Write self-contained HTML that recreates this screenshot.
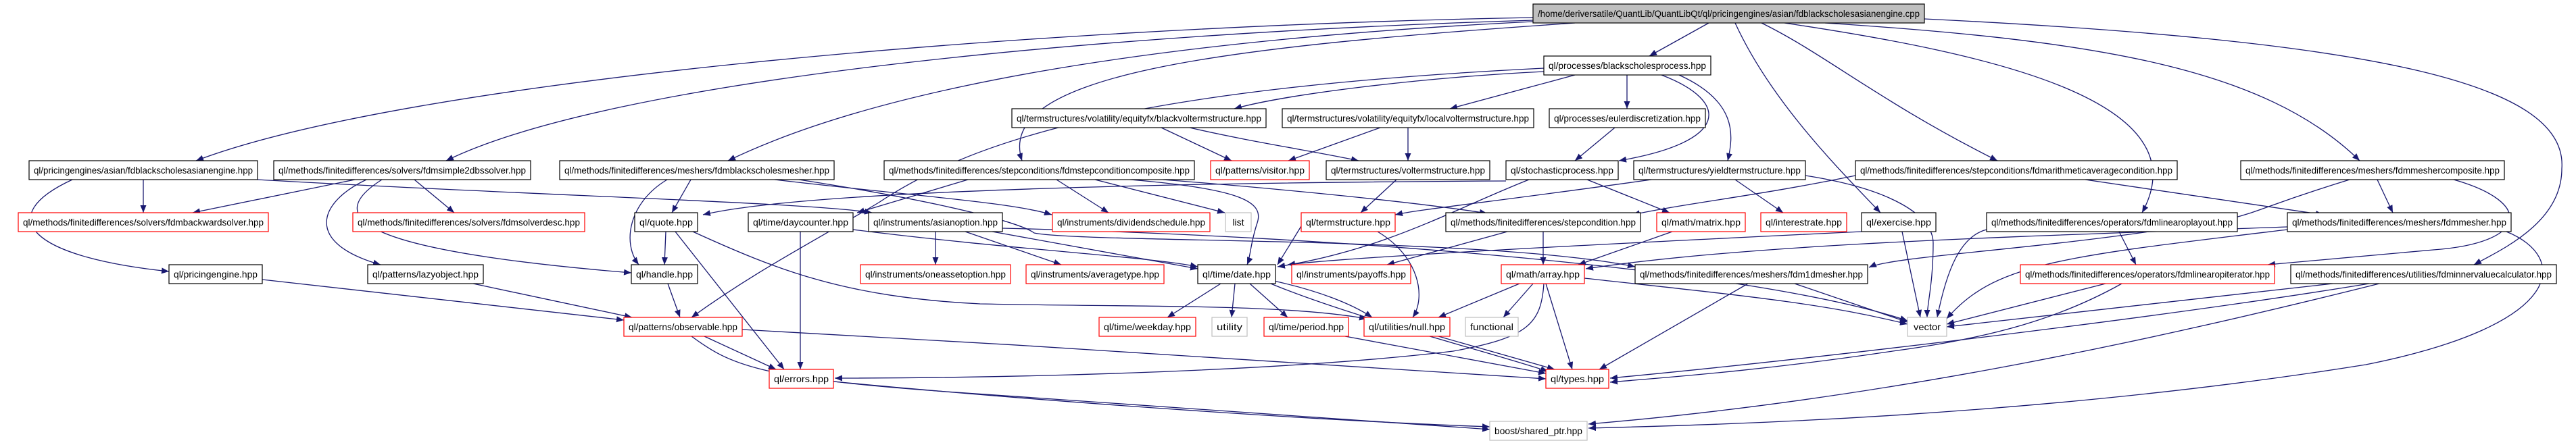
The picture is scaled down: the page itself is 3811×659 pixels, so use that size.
<!DOCTYPE html>
<html><head><meta charset="utf-8"><style>
html,body{margin:0;padding:0;background:#fff;}
svg{display:block;}
text{font-family:"Liberation Sans",sans-serif;font-size:14px;fill:#000;}
.e{fill:none;stroke:#191970;stroke-width:1.3;marker-end:url(#a);}
.n{fill:#fff;stroke:#000;stroke-width:1.2;}
.r{fill:#fff;stroke:#ff0000;stroke-width:1.2;}
.g{fill:#fff;stroke:#bfbfbf;stroke-width:1.2;}
.root{fill:#bfbfbf;stroke:#000;stroke-width:1.2;}
</style></head><body>
<svg width="3811" height="659" viewBox="0 0 3811 659" xmlns="http://www.w3.org/2000/svg">
<defs><marker id="a" markerUnits="userSpaceOnUse" markerWidth="12" markerHeight="9" refX="11" refY="4.5" orient="auto"><path d="M0,0 L11,4.5 L0,9 z" fill="#191970"/></marker></defs>
<g>
<!-- root edges -->
<path class="e" d="M2268,26 C1500,40 600,120 290,238"/>
<path class="e" d="M2268,30 C1600,50 900,120 660,238"/>
<path class="e" d="M2268,32 C1700,60 1300,130 1077,238"/>
<path class="e" d="M2330,34 C1800,70 1470,110 1512,238"/>
<path class="e" d="M2528,34 L2440,83"/>
<path class="e" d="M2567,34 C2620,150 2720,250 2782,315"/>
<path class="e" d="M2606,34 C2700,80 2780,150 2955,238"/>
<path class="e" d="M2640,34 C2950,80 3260,150 3169,315"/>
<path class="e" d="M2700,34 C3100,60 3350,100 3491,238"/>
<path class="e" d="M2847,28 C3500,60 3800,120 3790,250 C3790,330 3700,370 3660,392"/>
<!-- bsp -->
<path class="e" d="M2284,106 C2100,115 1900,140 1826,161"/>
<path class="e" d="M2284,101 C1700,130 1450,200 1300,300 C1200,360 1120,400 1023,470"/>
<path class="e" d="M2330,111 L2145,161"/>
<path class="e" d="M2407,111 L2407,161"/>
<path class="e" d="M2458,111 C2560,150 2560,210 2395,238"/>
<path class="e" d="M2484,111 C2570,150 2565,200 2556,238"/>
<!-- row C -->
<path class="e" d="M1718,189 L1822,238"/>
<path class="e" d="M1760,189 C1850,210 1950,225 2010,238"/>
<path class="e" d="M2042,189 L1906,238"/>
<path class="e" d="M2083,189 L2083,238"/>
<path class="e" d="M2389,189 L2330,238"/>
<!-- row D -->
<path class="e" d="M212,266 L212,315"/>
<path class="e" d="M107,266 C-10,320 40,380 250,402"/>
<path class="e" d="M381,266 C800,290 1200,300 1290,315"/>
<path class="e" d="M525,266 L285,315"/>
<path class="e" d="M613,266 L672,315"/>
<path class="e" d="M542,266 C470,300 450,360 563,392"/>
<path class="e" d="M565,266 C480,320 520,370 934,404"/>
<path class="e" d="M1022,266 L994,315"/>
<path class="e" d="M987,266 C930,300 920,360 945,392"/>
<path class="e" d="M1146,266 C1350,290 1500,300 1556,318"/>
<path class="e" d="M1182,266 C1400,300 1510,330 1530,345 C1600,360 2200,350 2419,395"/>
<path class="e" d="M1432,266 L1268,315"/>
<path class="e" d="M1563,266 L1640,315"/>
<path class="e" d="M1620,266 L1812,315"/>
<path class="e" d="M1672,266 C1840,280 1870,300 1860,330 C1850,360 1850,380 1845,392"/>
<path class="e" d="M1720,266 C1900,280 2100,300 2200,316"/>
<path class="e" d="M2228,268 C1800,270 1200,280 1040,318"/>
<path class="e" d="M2443,266 C2200,300 2100,310 2064,318"/>
<path class="e" d="M2066,266 L2013,315"/>
<path class="e" d="M2348,266 L2470,315"/>
<path class="e" d="M2262,266 C2150,310 2050,370 1890,395"/>
<path class="e" d="M2567,266 L2638,315"/>
<path class="e" d="M2671,260 C2800,280 2860,320 2860,360 C2860,420 2851,450 2851,470"/>
<path class="e" d="M2745,260 C2600,290 2500,300 2415,318"/>
<path class="e" d="M3085,266 L3437,318"/>
<path class="e" d="M3517,266 L3540,315"/>
<path class="e" d="M3476,266 C3300,320 3350,320 3200,340 C3000,370 2800,380 2765,396"/>
<path class="e" d="M3630,266 C3750,300 3740,360 3600,370 L3355,392"/>
<!-- row E -->
<path class="e" d="M2814,343 L2841,470"/>
<path class="e" d="M2754,343 C2400,360 2000,380 1905,392"/>
<path class="e" d="M2283,343 L2283,392"/>
<path class="e" d="M2230,343 L2052,392"/>
<path class="e" d="M2474,343 L2335,392"/>
<path class="e" d="M3135,343 L3160,392"/>
<path class="e" d="M2939,340 C2900,350 2880,400 2866,470"/>
<path class="e" d="M3384,340 C3050,380 2950,390 2880,472"/>
<path class="e" d="M3708,343 C3800,380 3800,480 3500,540 C3000,620 2500,630 2350,634"/>
<path class="e" d="M3384,336 C3000,350 2600,360 2346,398"/>
<path class="e" d="M2038,343 C2100,380 2110,440 2090,470"/>
<path class="e" d="M1925,335 L1890,392"/>
<path class="e" d="M985,343 L983,392"/>
<path class="e" d="M999,343 L1160,547"/>
<path class="e" d="M1025,343 C1150,400 1250,440 1450,450 C1700,455 1900,450 2022,472"/>
<path class="e" d="M1184,343 L1184,547"/>
<path class="e" d="M1262,340 C1500,370 1700,380 1772,395"/>
<path class="e" d="M1384,343 L1384,392"/>
<path class="e" d="M1428,343 L1570,392"/>
<path class="e" d="M1468,343 L1772,398"/>
<path class="e" d="M1483,338 C2000,350 2600,400 2822,475"/>
<!-- row F -->
<path class="e" d="M2586,420 L2366,547"/>
<path class="e" d="M2655,420 L2822,477"/>
<path class="e" d="M3115,420 L2880,480"/>
<path class="e" d="M3139,420 C3050,470 2950,500 2800,520 C2600,550 2450,560 2382,566"/>
<path class="e" d="M3451,420 L2880,484"/>
<path class="e" d="M3505,420 C3200,470 2700,530 2382,560"/>
<path class="e" d="M3520,420 C3200,500 2800,590 2350,628"/>
<path class="e" d="M2248,420 L2128,470"/>
<path class="e" d="M2268,420 L2224,470"/>
<path class="e" d="M2287,420 L2326,547"/>
<path class="e" d="M2344,412 C2600,440 2700,450 2822,480"/>
<path class="e" d="M2284,420 C2280,480 2260,500 2150,520 C1900,550 1500,560 1235,560"/>
<path class="e" d="M1806,420 L1727,470"/>
<path class="e" d="M1827,420 L1822,470"/>
<path class="e" d="M1849,420 L1905,470"/>
<path class="e" d="M1880,415 C1950,430 2000,450 2030,470"/>
<path class="e" d="M1880,420 C2000,470 2200,520 2290,550"/>
<path class="e" d="M988,420 L1006,470"/>
<path class="e" d="M700,420 L935,470"/>
<path class="e" d="M388,414 L923,474"/>
<!-- row G/H -->
<path class="e" d="M1990,498 L2287,553"/>
<path class="e" d="M2128,498 L2300,547"/>
<path class="e" d="M1042,498 L1148,547"/>
<path class="e" d="M1098,488 C1500,510 2000,540 2287,561"/>
<path class="e" d="M1023,498 C1080,540 1120,560 1400,580 C1800,610 2000,620 2204,636"/>
<path class="e" d="M1233,565 C1600,600 2000,625 2204,632"/>
</g>
<g>
<!-- nodes: rect + text -->
<rect class="root" x="2268" y="6" width="579" height="28"/><text x="2557.5" y="25" text-anchor="middle" textLength="565" lengthAdjust="spacingAndGlyphs">/home/deriversatile/QuantLib/QuantLibQt/ql/pricingengines/asian/fdblackscholesasianengine.cpp</text>
<rect class="n" x="2284" y="83" width="247" height="28"/><text x="2407.5" y="102" text-anchor="middle" textLength="233" lengthAdjust="spacingAndGlyphs">ql/processes/blackscholesprocess.hpp</text>
<rect class="n" x="1497" y="161" width="376" height="28"/><text x="1685" y="180" text-anchor="middle" textLength="362" lengthAdjust="spacingAndGlyphs">ql/termstructures/volatility/equityfx/blackvoltermstructure.hpp</text>
<rect class="n" x="1897" y="161" width="372" height="28"/><text x="2083" y="180" text-anchor="middle" textLength="358" lengthAdjust="spacingAndGlyphs">ql/termstructures/volatility/equityfx/localvoltermstructure.hpp</text>
<rect class="n" x="2292" y="161" width="231" height="28"/><text x="2407.5" y="180" text-anchor="middle" textLength="217" lengthAdjust="spacingAndGlyphs">ql/processes/eulerdiscretization.hpp</text>
<rect class="n" x="43" y="238" width="338" height="28"/><text x="212" y="257" text-anchor="middle" textLength="324" lengthAdjust="spacingAndGlyphs">ql/pricingengines/asian/fdblackscholesasianengine.hpp</text>
<rect class="n" x="405" y="238" width="380" height="28"/><text x="595" y="257" text-anchor="middle" textLength="366" lengthAdjust="spacingAndGlyphs">ql/methods/finitedifferences/solvers/fdmsimple2dbssolver.hpp</text>
<rect class="n" x="828" y="238" width="406" height="28"/><text x="1031" y="257" text-anchor="middle" textLength="392" lengthAdjust="spacingAndGlyphs">ql/methods/finitedifferences/meshers/fdmblackscholesmesher.hpp</text>
<rect class="n" x="1308" y="238" width="459" height="28"/><text x="1537.5" y="257" text-anchor="middle" textLength="445" lengthAdjust="spacingAndGlyphs">ql/methods/finitedifferences/stepconditions/fdmstepconditioncomposite.hpp</text>
<rect class="r" x="1791" y="238" width="146" height="28"/><text x="1864" y="257" text-anchor="middle" textLength="132" lengthAdjust="spacingAndGlyphs">ql/patterns/visitor.hpp</text>
<rect class="n" x="1962" y="238" width="242" height="28"/><text x="2083" y="257" text-anchor="middle" textLength="228" lengthAdjust="spacingAndGlyphs">ql/termstructures/voltermstructure.hpp</text>
<rect class="n" x="2228" y="238" width="166" height="28"/><text x="2311" y="257" text-anchor="middle" textLength="152" lengthAdjust="spacingAndGlyphs">ql/stochasticprocess.hpp</text>
<rect class="n" x="2417" y="238" width="254" height="28"/><text x="2544" y="257" text-anchor="middle" textLength="240" lengthAdjust="spacingAndGlyphs">ql/termstructures/yieldtermstructure.hpp</text>
<rect class="n" x="2745" y="238" width="476" height="28"/><text x="2983" y="257" text-anchor="middle" textLength="462" lengthAdjust="spacingAndGlyphs">ql/methods/finitedifferences/stepconditions/fdmarithmeticaveragecondition.hpp</text>
<rect class="n" x="3315" y="238" width="390" height="28"/><text x="3510" y="257" text-anchor="middle" textLength="376" lengthAdjust="spacingAndGlyphs">ql/methods/finitedifferences/meshers/fdmmeshercomposite.hpp</text>
<rect class="r" x="27" y="315" width="370" height="28"/><text x="212" y="334" text-anchor="middle" textLength="356" lengthAdjust="spacingAndGlyphs">ql/methods/finitedifferences/solvers/fdmbackwardsolver.hpp</text>
<rect class="r" x="522" y="315" width="343" height="28"/><text x="693.5" y="334" text-anchor="middle" textLength="329" lengthAdjust="spacingAndGlyphs">ql/methods/finitedifferences/solvers/fdmsolverdesc.hpp</text>
<rect class="n" x="939" y="315" width="93" height="28"/><text x="985.5" y="334" text-anchor="middle" textLength="79" lengthAdjust="spacingAndGlyphs">ql/quote.hpp</text>
<rect class="n" x="1107" y="315" width="155" height="28"/><text x="1184.5" y="334" text-anchor="middle" textLength="141" lengthAdjust="spacingAndGlyphs">ql/time/daycounter.hpp</text>
<rect class="n" x="1285" y="315" width="198" height="28"/><text x="1384" y="334" text-anchor="middle" textLength="184" lengthAdjust="spacingAndGlyphs">ql/instruments/asianoption.hpp</text>
<rect class="r" x="1557" y="315" width="233" height="28"/><text x="1673.5" y="334" text-anchor="middle" textLength="219" lengthAdjust="spacingAndGlyphs">ql/instruments/dividendschedule.hpp</text>
<rect class="g" x="1813" y="315" width="38" height="28"/><text x="1832" y="334" text-anchor="middle">list</text>
<rect class="r" x="1925" y="315" width="139" height="28"/><text x="1994.5" y="334" text-anchor="middle" textLength="125" lengthAdjust="spacingAndGlyphs">ql/termstructure.hpp</text>
<rect class="n" x="2139" y="315" width="288" height="28"/><text x="2283" y="334" text-anchor="middle" textLength="274" lengthAdjust="spacingAndGlyphs">ql/methods/finitedifferences/stepcondition.hpp</text>
<rect class="r" x="2451" y="315" width="131" height="28"/><text x="2516.5" y="334" text-anchor="middle" textLength="117" lengthAdjust="spacingAndGlyphs">ql/math/matrix.hpp</text>
<rect class="r" x="2605" y="315" width="127" height="28"/><text x="2668.5" y="334" text-anchor="middle" textLength="113" lengthAdjust="spacingAndGlyphs">ql/interestrate.hpp</text>
<rect class="n" x="2754" y="315" width="110" height="28"/><text x="2809" y="334" text-anchor="middle" textLength="96" lengthAdjust="spacingAndGlyphs">ql/exercise.hpp</text>
<rect class="n" x="2939" y="315" width="371" height="28"/><text x="3124.5" y="334" text-anchor="middle" textLength="357" lengthAdjust="spacingAndGlyphs">ql/methods/finitedifferences/operators/fdmlinearoplayout.hpp</text>
<rect class="n" x="3384" y="315" width="331" height="28"/><text x="3549.5" y="334" text-anchor="middle" textLength="317" lengthAdjust="spacingAndGlyphs">ql/methods/finitedifferences/meshers/fdmmesher.hpp</text>
<rect class="n" x="250" y="392" width="138" height="28"/><text x="319" y="411" text-anchor="middle" textLength="124" lengthAdjust="spacingAndGlyphs">ql/pricingengine.hpp</text>
<rect class="n" x="544" y="392" width="171" height="28"/><text x="629.5" y="411" text-anchor="middle" textLength="157" lengthAdjust="spacingAndGlyphs">ql/patterns/lazyobject.hpp</text>
<rect class="n" x="934" y="392" width="98" height="28"/><text x="983" y="411" text-anchor="middle" textLength="84" lengthAdjust="spacingAndGlyphs">ql/handle.hpp</text>
<rect class="r" x="1273" y="392" width="222" height="28"/><text x="1384" y="411" text-anchor="middle" textLength="208" lengthAdjust="spacingAndGlyphs">ql/instruments/oneassetoption.hpp</text>
<rect class="r" x="1518" y="392" width="204" height="28"/><text x="1620" y="411" text-anchor="middle" textLength="190" lengthAdjust="spacingAndGlyphs">ql/instruments/averagetype.hpp</text>
<rect class="n" x="1772" y="392" width="115" height="28"/><text x="1829.5" y="411" text-anchor="middle" textLength="101" lengthAdjust="spacingAndGlyphs">ql/time/date.hpp</text>
<rect class="r" x="1911" y="392" width="176" height="28"/><text x="1999" y="411" text-anchor="middle" textLength="162" lengthAdjust="spacingAndGlyphs">ql/instruments/payoffs.hpp</text>
<rect class="r" x="2221" y="392" width="123" height="28"/><text x="2282.5" y="411" text-anchor="middle" textLength="109" lengthAdjust="spacingAndGlyphs">ql/math/array.hpp</text>
<rect class="n" x="2419" y="392" width="344" height="28"/><text x="2591" y="411" text-anchor="middle" textLength="330" lengthAdjust="spacingAndGlyphs">ql/methods/finitedifferences/meshers/fdm1dmesher.hpp</text>
<rect class="r" x="2989" y="392" width="376" height="28"/><text x="3177" y="411" text-anchor="middle" textLength="362" lengthAdjust="spacingAndGlyphs">ql/methods/finitedifferences/operators/fdmlinearopiterator.hpp</text>
<rect class="n" x="3389" y="392" width="393" height="28"/><text x="3585.5" y="411" text-anchor="middle" textLength="379" lengthAdjust="spacingAndGlyphs">ql/methods/finitedifferences/utilities/fdminnervaluecalculator.hpp</text>
<rect class="r" x="923" y="470" width="175" height="28"/><text x="1010.5" y="489" text-anchor="middle" textLength="161" lengthAdjust="spacingAndGlyphs">ql/patterns/observable.hpp</text>
<rect class="r" x="1626" y="470" width="143" height="28"/><text x="1697.5" y="489" text-anchor="middle" textLength="129" lengthAdjust="spacingAndGlyphs">ql/time/weekday.hpp</text>
<rect class="g" x="1793" y="470" width="52" height="28"/><text x="1819" y="489" text-anchor="middle" textLength="38" lengthAdjust="spacingAndGlyphs">utility</text>
<rect class="r" x="1870" y="470" width="125" height="28"/><text x="1932.5" y="489" text-anchor="middle" textLength="111" lengthAdjust="spacingAndGlyphs">ql/time/period.hpp</text>
<rect class="r" x="2018" y="470" width="127" height="28"/><text x="2081.5" y="489" text-anchor="middle" textLength="113" lengthAdjust="spacingAndGlyphs">ql/utilities/null.hpp</text>
<rect class="g" x="2168" y="470" width="78" height="28"/><text x="2207" y="489" text-anchor="middle" textLength="64" lengthAdjust="spacingAndGlyphs">functional</text>
<rect class="g" x="2822" y="470" width="58" height="28"/><text x="2851" y="489" text-anchor="middle" textLength="40" lengthAdjust="spacingAndGlyphs">vector</text>
<rect class="r" x="1138" y="547" width="95" height="28"/><text x="1185.5" y="566" text-anchor="middle" textLength="81" lengthAdjust="spacingAndGlyphs">ql/errors.hpp</text>
<rect class="r" x="2287" y="547" width="93" height="28"/><text x="2333.5" y="566" text-anchor="middle" textLength="79" lengthAdjust="spacingAndGlyphs">ql/types.hpp</text>
<rect class="g" x="2204" y="624" width="144" height="28"/><text x="2276" y="643" text-anchor="middle" textLength="130" lengthAdjust="spacingAndGlyphs">boost/shared_ptr.hpp</text>
</g>
</svg>
</body></html>
